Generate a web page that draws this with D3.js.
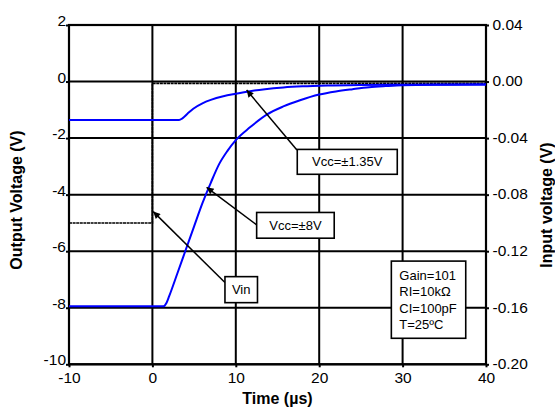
<!DOCTYPE html>
<html><head><meta charset="utf-8">
<script src="https://cdn.jsdelivr.net/npm/d3@7"></script>
<style>
html,body{margin:0;padding:0;background:#fff;}
svg{display:block;font-family:"Liberation Sans",Arial,sans-serif;}
</style></head>
<body>
<svg id="chart" width="555" height="410"></svg>
<script>
// ---- data ----
const timeTicks = [-10, 0, 10, 20, 30, 40];
const outputTicks = [2, 0, -2, -4, -6, -8, -10];
const inputTicks = [0.04, 0.00, -0.04, -0.08, -0.12, -0.16, -0.20];

// Output voltage, Vcc = ±1.35 V  [time µs, volts]
const vcc135 = [[-10,-1.36],[3.2,-1.36],[3.6,-1.3],[4.2,-1.14],[4.9,-0.96],[6,-0.77],[7,-0.65],[8.5,-0.52],[10,-0.43],[11.7,-0.34],[13.5,-0.27],[15.7,-0.21],[18,-0.17],[21,-0.14],[25,-0.12],[30,-0.11],[40,-0.1]];
// Output voltage, Vcc = ±8 V
const vcc8 = [[-10,-7.95],[1.3,-7.95],[1.7,-7.82],[2,-7.6],[3,-6.78],[4,-5.95],[5,-5.12],[6,-4.3],[7,-3.58],[8,-2.92],[9,-2.45],[10,-2.07],[11.7,-1.62],[13.7,-1.17],[15.7,-0.88],[17.7,-0.66],[20,-0.46],[22,-0.35],[24,-0.27],[26,-0.2],[28,-0.16],[30,-0.13],[35,-0.11],[40,-0.1]];
// Input voltage step (right axis, volts)
const vin = [[-10,-0.1],[0,-0.1],[0,-0.0013],[40,-0.0013]];

// callouts: label, box [t0,v0,t1,v1], arrow from [t,v] to tip [t,v]
const callouts = [
  {label:"Vcc=±1.35V", box:[17.37,-2.40,29.36,-3.28], from:[17.33,-2.42], tip:[11.3,-0.30]},
  {label:"Vcc=±8V",    box:[12.5,-4.63,21.8,-5.54],   from:[12.5,-5.07],  tip:[6.5,-3.74]},
  {label:"Vin",        box:[8.7,-6.90,12.6,-7.82],    from:[8.7,-7.11],   tip:[0.1,-4.6]}
];
const conditions = ["Gain=101","RI=10kΩ","CI=100pF","T=25ºC"];
const conditionBox = [28.65,-6.35,37.57,-9.08];

// ---- layout ----
const svg = d3.select("#chart");
const L = 69, R = 486, T = 25, B = 364.3;
const x = d3.scaleLinear().domain([-10,40]).range([L,R]);
const y = d3.scaleLinear().domain([-10,2]).range([B,T]);
const yIn = d3.scaleLinear().domain([-0.20,0.04]).range([B,T]);
const hy = fmt => d => fmt(d).replace("\u2212","-");

const defs = svg.append("defs");
defs.append("marker").attr("id","arr").attr("viewBox","0 0 10 10").attr("refX",10).attr("refY",5)
  .attr("markerWidth",9).attr("markerHeight",7).attr("markerUnits","userSpaceOnUse").attr("orient","auto")
  .append("path").attr("d","M0,0L10,5L0,10z").attr("fill","#000");

// gridlines
const g = svg.append("g");
g.selectAll(".vg").data(timeTicks).join("line")
  .attr("x1",d=>x(d)).attr("x2",d=>x(d)).attr("y1",T).attr("y2",B)
  .attr("stroke","#000").attr("stroke-width",2);
g.selectAll(".hg").data(outputTicks).join("line")
  .attr("x1",L).attr("x2",R).attr("y1",d=>y(d)).attr("y2",d=>y(d))
  .attr("stroke","#000").attr("stroke-width",2);

// axes
const fontSize = "15.5px";
const ax = svg.append("g").attr("transform",`translate(0,${B})`)
  .call(d3.axisBottom(x).tickValues(timeTicks).tickSize(3).tickPadding(4.5).tickFormat(hy(d3.format("d"))));
const ayl = svg.append("g").attr("transform",`translate(${L},0)`)
  .call(d3.axisLeft(y).tickValues(outputTicks).tickSize(3).tickPadding(0).tickFormat(hy(d3.format("d"))));
ayl.selectAll("text").attr("dy","0.03em");
const ayr = svg.append("g").attr("transform",`translate(${R},0)`)
  .call(d3.axisRight(yIn).tickValues(inputTicks).tickSize(3).tickPadding(3.5).tickFormat(hy(d3.format(".2f"))));
ayr.selectAll("text").attr("dy","0.28em");
[ax,ayl,ayr].forEach(a=>{
  a.select(".domain").remove();
  a.selectAll(".tick line").attr("stroke","#000").attr("stroke-width",2);
  a.selectAll("text").attr("fill","#000").style("font-size",fontSize).style("font-family","'Liberation Sans',Arial,sans-serif");
});
// frame
svg.append("rect").attr("x",L).attr("y",T).attr("width",R-L).attr("height",B-T)
  .attr("fill","none").attr("stroke","#000").attr("stroke-width",2.2);

// traces
const lineOut = d3.line().x(d=>x(d[0])).y(d=>y(d[1])).curve(d3.curveMonotoneX);
const lineIn = d3.line().x(d=>x(d[0])).y(d=>yIn(d[1]));
svg.append("path").datum(vin).attr("d",lineIn).attr("fill","none")
  .attr("stroke","#000").attr("stroke-width",1.6).attr("stroke-dasharray","3,0.6");
[vcc135, vcc8].forEach(s=>{
  svg.append("path").datum(s).attr("d",lineOut).attr("fill","none")
    .attr("stroke","#0000ff").attr("stroke-width",2);
});

// callouts
callouts.forEach(c=>{
  svg.append("line").attr("x1",x(c.from[0])).attr("y1",y(c.from[1]))
    .attr("x2",x(c.tip[0])).attr("y2",y(c.tip[1]))
    .attr("stroke","#000").attr("stroke-width",1.5).attr("marker-end","url(#arr)");
  const [t0,v0,t1,v1] = c.box;
  svg.append("rect").attr("x",x(t0)).attr("y",y(v0)).attr("width",x(t1)-x(t0)).attr("height",y(v1)-y(v0))
    .attr("fill","#fff").attr("stroke","#000").attr("stroke-width",1.6);
  svg.append("text").attr("x",(x(t0)+x(t1))/2).attr("y",(y(v0)+y(v1))/2+4.6)
    .attr("text-anchor","middle").style("font-size","13px").text(c.label);
});
{
  const [t0,v0,t1,v1] = conditionBox;
  svg.append("rect").attr("x",x(t0)).attr("y",y(v0)).attr("width",x(t1)-x(t0)).attr("height",y(v1)-y(v0))
    .attr("fill","#fff").attr("stroke","#000").attr("stroke-width",1.6);
  svg.selectAll(".cond").data(conditions).join("text")
    .attr("x",x(t0)+8).attr("y",(d,i)=>y(v0)+18.5+i*16.5)
    .style("font-size","13px").text(d=>d);
}

// axis titles
svg.append("text").attr("transform","translate(22,200) rotate(-90)").attr("text-anchor","middle")
  .style("font-size","16px").style("font-weight","bold").text("Output Voltage (V)");
svg.append("text").attr("transform","translate(551.5,205) rotate(-90)").attr("text-anchor","middle")
  .style("font-size","16px").style("font-weight","bold").text("Input voltage (V)");
svg.append("text").attr("x",(L+R)/2).attr("y",403.5).attr("text-anchor","middle")
  .style("font-size","16px").style("font-weight","bold").text("Time (µs)");
</script>
</body></html>
